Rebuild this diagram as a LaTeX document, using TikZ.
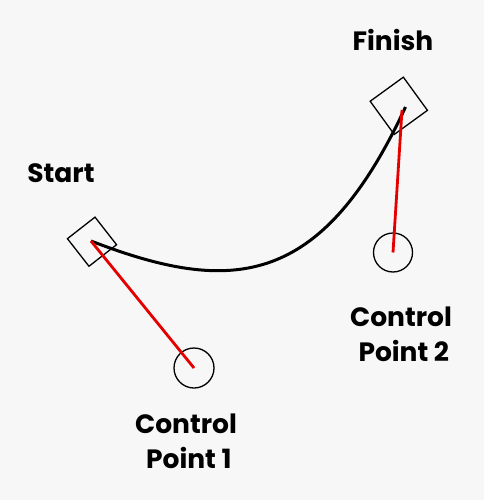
\documentclass[tikz,border=0pt]{standalone}
\usepackage{fontspec}
\setmainfont{Poppins}
\begin{document}
\begin{tikzpicture}[x=1pt,y=-1pt,
  sq/.style={draw=black,line width=1.3pt,minimum size=#1,inner sep=0pt,outer sep=0pt},
  cp/.style={draw=black,line width=1.3pt,circle,minimum size=#1,inner sep=0pt,outer sep=0pt},
  lbl/.style={font=\fontsize{26.5}{35}\selectfont\bfseries,align=center,inner sep=0pt},
  curve/.style={line width=3pt,black},
  ctrl/.style={line width=2.8pt,red!90!black}]
\fill[black!3] (0,0) rectangle (484,500);
\useasboundingbox (0,0) rectangle (484,500);
\node[sq=35pt,rotate=38] (sq1) at (92,241.7) {};
\node[sq=41pt,rotate=36] (sq2) at (398.8,105.8) {};
\node[cp=40pt] (c1) at (194,368) {};
\node[cp=39pt] (c2) at (393,252.5) {};
\coordinate (s) at (91,241);
\coordinate (f) at (405.5,107);
\coordinate (f2) at (402,110);
\draw[curve] (s) .. controls (231,295) and (321,289) .. (f);
\draw[ctrl] (s) -- (c1.center);
\draw[ctrl] (f2) -- (c2.center);
\node[lbl] (tf) at (393,40) {Finish};
\node[lbl] (ts) at (61,173) {Start};
\node[lbl] (t1) at (186,441) {Control\\\ Point\ 1};
\node[lbl] (t2) at (401,334) {Control\\\ Point\ 2};
\end{tikzpicture}
\end{document}
